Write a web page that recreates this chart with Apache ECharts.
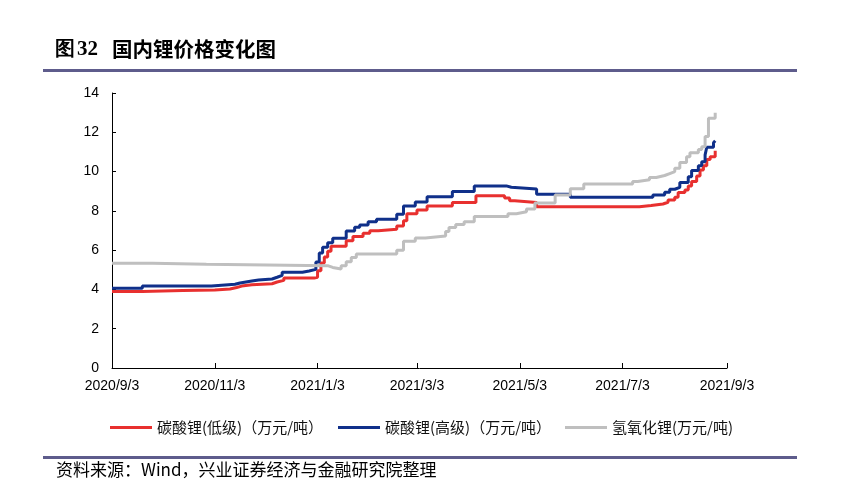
<!DOCTYPE html>
<html><head><meta charset="utf-8">
<script src="https://cdn.jsdelivr.net/npm/echarts@6/dist/echarts.min.js"></script>
<style>html,body{margin:0;padding:0;background:#fff}#c{width:866px;height:488px}</style>
</head><body><div id="c"></div>
<script>
const seriesNames = ['碳酸锂(低级)（万元/吨）', '碳酸锂(高级)（万元/吨）', '氢氧化锂(万元/吨)'];
const xTickLabels = ['2020/9/3','2020/11/3','2021/1/3','2021/3/3','2021/5/3','2021/7/3','2021/9/3'];
const yTicks = [0, 2, 4, 6, 8, 10, 12, 14];

const lowDates = ['2020-09-03','2020-09-21','2020-10-15','2020-11-03','2020-11-12','2020-11-16','2020-11-19','2020-11-25','2020-12-07','2020-12-10','2020-12-14','2021-01-01','2021-01-03','2021-01-05','2021-01-07','2021-01-09','2021-01-11','2021-01-20','2021-01-24','2021-01-30','2021-02-03','2021-02-08','2021-02-19','2021-02-23','2021-02-25','2021-03-03','2021-03-09','2021-03-24','2021-04-07','2021-04-24','2021-04-27','2021-04-30','2021-05-13','2021-07-13','2021-07-20','2021-07-27','2021-07-30','2021-08-03','2021-08-05','2021-08-09','2021-08-11','2021-08-13','2021-08-16','2021-08-18','2021-08-20','2021-08-22','2021-08-24','2021-08-27'];
const lowValues = [3.90,3.94,3.97,4.02,4.10,4.17,4.24,4.29,4.38,4.46,4.58,4.62,4.95,5.35,5.65,5.95,6.20,6.48,6.69,6.86,6.99,7.06,7.23,7.50,7.85,8.05,8.25,8.43,8.77,8.65,8.52,8.43,8.21,8.27,8.35,8.44,8.55,8.69,8.93,9.06,9.27,9.49,9.78,10.08,10.30,10.62,10.76,11.06];

const highDates = ['2020-09-03','2020-09-21','2020-11-01','2020-11-15','2020-11-18','2020-11-25','2020-11-29','2020-12-07','2020-12-10','2020-12-13','2020-12-25','2020-12-29','2021-01-02','2021-01-04','2021-01-06','2021-01-09','2021-01-12','2021-01-20','2021-01-25','2021-01-28','2021-02-02','2021-02-07','2021-02-19','2021-02-23','2021-03-02','2021-03-09','2021-03-24','2021-04-06','2021-04-25','2021-04-28','2021-05-13','2021-06-02','2021-07-21','2021-07-28','2021-07-31','2021-08-03','2021-08-06','2021-08-11','2021-08-13','2021-08-17','2021-08-19','2021-08-21','2021-08-22','2021-08-26','2021-08-27'];
const highValues = [4.06,4.17,4.26,4.33,4.43,4.48,4.53,4.62,4.72,4.87,4.94,5.02,5.40,5.85,6.15,6.38,6.60,6.98,7.16,7.28,7.45,7.57,7.83,8.25,8.45,8.72,8.98,9.27,9.20,9.11,8.84,8.69,8.81,8.95,9.10,9.20,9.44,9.74,10.05,10.30,10.50,10.85,11.24,11.47,11.57];

const hydDates = ['2020-09-03','2020-09-27','2020-10-29','2021-01-09','2021-01-10','2021-01-12','2021-01-17','2021-01-20','2021-01-23','2021-01-26','2021-02-19','2021-02-23','2021-03-02','2021-03-08','2021-03-20','2021-03-22','2021-03-26','2021-03-31','2021-04-06','2021-04-26','2021-05-01','2021-05-07','2021-05-12','2021-05-24','2021-06-02','2021-06-10','2021-07-09','2021-07-12','2021-07-19','2021-07-23','2021-07-28','2021-07-31','2021-08-03','2021-08-06','2021-08-10','2021-08-12','2021-08-17','2021-08-19','2021-08-21','2021-08-23','2021-08-27'];
const hydValues = [5.33,5.28,5.21,5.19,5.12,5.04,5.21,5.41,5.63,5.80,6.00,6.45,6.62,6.72,6.95,7.15,7.30,7.45,7.71,7.85,7.95,8.10,8.40,8.81,9.12,9.37,9.49,9.58,9.70,9.80,9.90,10.00,10.17,10.46,10.76,10.96,11.13,11.27,11.78,12.71,13.00];

function toTs(s){ const p = s.split(/[-\/]/).map(Number); return Date.UTC(p[0], p[1]-1, p[2]); }
const zip = (d, v) => d.map((x, i) => [toTs(x), v[i]]);
const tickTs = xTickLabels.map(toTs);
const labelOf = ts => { const i = tickTs.indexOf(ts); return i >= 0 ? xTickLabels[i] : ''; };

const colors = ['#E8302F', '#10308A', '#BFBFBF'];
const cjk = '"Noto Sans CJK SC", serif';
const chart = echarts.init(document.getElementById('c'), null, {renderer: 'canvas'});
const mk = (name, data, color) => ({
  name, type: 'line', data, step: 'end', symbol: 'none', animation: false,
  lineStyle: {color, width: 3}, itemStyle: {color}
});
const legendAt = (name, left) => ({
  left, top: 415, itemWidth: 42, itemHeight: 3, icon: 'rect',
  textStyle: {fontSize: 15, color: '#111', fontFamily: cjk},
  data: [name]
});
chart.setOption({
  animation: false,
  textStyle: {fontFamily: '"Liberation Sans", "Noto Sans CJK SC", sans-serif'},
  graphic: [
    {type: 'text', style: {x: 55, y: 49, text: '图', fontSize: 20, fontWeight: 'bold', fill: '#000', font: 'bold 20px "Noto Sans CJK SC"', verticalAlign: 'middle'}},
    {type: 'text', style: {x: 77, y: 50, text: '32', fill: '#000', font: 'bold 21px "Liberation Serif"', verticalAlign: 'middle'}},
    {type: 'text', style: {x: 112, y: 49, text: '国内锂价格变化图', fill: '#000', font: 'bold 20.5px "Noto Sans CJK SC"', verticalAlign: 'middle'}},
    {type: 'rect', shape: {x: 43, y: 69, width: 754, height: 3}, style: {fill: '#5E5C8C'}},
    {type: 'rect', shape: {x: 43, y: 456, width: 754, height: 3}, style: {fill: '#5E5C8C'}},
    {type: 'text', style: {x: 56, y: 470, text: '资料来源：Wind，兴业证券经济与金融研究院整理', fill: '#000', font: '17px "Noto Sans CJK SC"', verticalAlign: 'middle'}}
  ],
  legend: [legendAt(seriesNames[0], 105), legendAt(seriesNames[1], 333), legendAt(seriesNames[2], 560)],
  grid: {left: 112, right: 139, top: 93, bottom: 120},
  xAxis: {
    type: 'value', min: tickTs[0], max: tickTs[tickTs.length-1],
    axisLine: {lineStyle: {color: '#000', width: 1}},
    axisTick: {show: true, inside: true, length: 5, customValues: tickTs, lineStyle: {color: '#000'}},
    axisLabel: {customValues: tickTs, formatter: v => labelOf(v), fontSize: 14, color: '#000', margin: 11},
    splitLine: {show: false}
  },
  yAxis: {
    type: 'value', min: yTicks[0], max: yTicks[yTicks.length-1], interval: 2,
    axisLine: {show: true, lineStyle: {color: '#000', width: 1}},
    axisTick: {show: true, inside: true, length: 4, lineStyle: {color: '#000'}},
    axisLabel: {fontSize: 14, color: '#000', margin: 13},
    splitLine: {show: false}
  },
  series: [
    mk(seriesNames[0], zip(lowDates, lowValues), colors[0]),
    mk(seriesNames[1], zip(highDates, highValues), colors[1]),
    mk(seriesNames[2], zip(hydDates, hydValues), colors[2])
  ]
});
</script></body></html>
